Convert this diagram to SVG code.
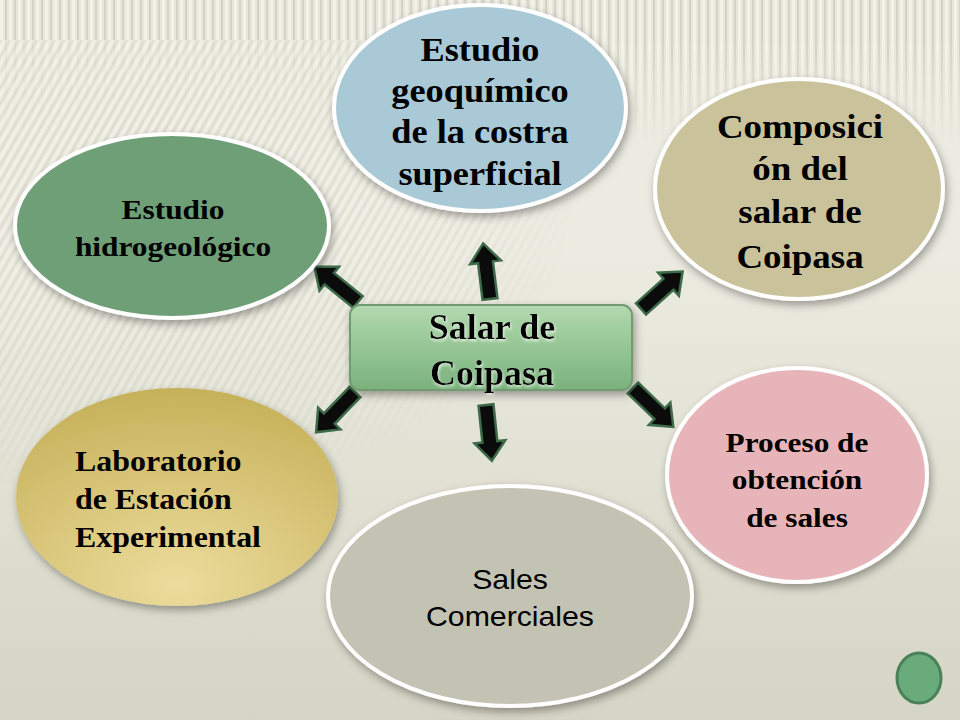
<svg xmlns="http://www.w3.org/2000/svg" width="960" height="720" viewBox="0 0 960 720">
<defs>
  <style>
    .node { stroke: #ffffff; stroke-width: 4; filter: url(#shadow); }
    .bold { font-family: "Liberation Serif", "Times New Roman", serif; font-weight: bold; fill: #000; text-anchor: middle; }
    .start { text-anchor: start; }
    .sans { font-family: "Liberation Sans", Arial, sans-serif; fill: #000; text-anchor: middle; }
    .arrow { fill: #0b0b0b; stroke: #3d6b49; stroke-width: 2.5; stroke-linejoin: miter; }
  </style>
  <filter id="shadow" x="-20%" y="-20%" width="140%" height="150%">
    <feDropShadow dx="2" dy="4" stdDeviation="4" flood-color="#000" flood-opacity="0.35"/>
  </filter>
  <filter id="tshadow" x="-10%" y="-10%" width="120%" height="130%">
    <feDropShadow dx="1" dy="2" stdDeviation="1.5" flood-color="#ffffff" flood-opacity="0.7"/>
  </filter>
  <pattern id="stripes" width="9" height="20" patternUnits="userSpaceOnUse">
    <rect width="9" height="20" fill="#e6e6da"/>
    <rect x="0" width="3" height="20" fill="#f3f2ea"/>
    <rect x="5" width="2" height="20" fill="#d3d4c6"/>
  </pattern>
  <pattern id="diag" width="9" height="20" patternUnits="userSpaceOnUse" patternTransform="skewX(-30)">
    <rect width="9" height="20" fill="#e8e7dc"/>
    <rect x="0" width="3" height="20" fill="#f3f2ea"/>
    <rect x="5" width="2" height="20" fill="#d8d8ca"/>
  </pattern>
  <linearGradient id="topfade" x1="0" y1="0" x2="0" y2="1">
    <stop offset="0" stop-color="#ffffff"/>
    <stop offset="0.06" stop-color="#ffffff"/>
    <stop offset="0.2" stop-color="#000000"/>
    <stop offset="1" stop-color="#000000"/>
  </linearGradient>
  <mask id="stripeMask">
    <rect width="960" height="720" fill="#fff"/>
    <rect width="960" height="720" fill="url(#topfade)"/>
  </mask>
  <radialGradient id="diagFade" cx="0.15" cy="0.25" r="0.45">
    <stop offset="0" stop-color="#fff"/>
    <stop offset="0.6" stop-color="#fff" stop-opacity="0.6"/>
    <stop offset="1" stop-color="#000"/>
  </radialGradient>
  <mask id="diagMask">
    <rect width="960" height="720" fill="url(#diagFade)"/>
    <rect width="960" height="40" fill="#000"/>
  </mask>
  <linearGradient id="bottomTint" x1="0" y1="0" x2="0" y2="1">
    <stop offset="0.35" stop-color="#a9ad92" stop-opacity="0"/>
    <stop offset="1" stop-color="#a9ad92" stop-opacity="0.35"/>
  </linearGradient>
  <radialGradient id="labGrad" cx="0.5" cy="0.9" r="0.9">
    <stop offset="0" stop-color="#ecdc9c"/>
    <stop offset="1" stop-color="#c6b15a"/>
  </radialGradient>
  <linearGradient id="boxGrad" x1="0" y1="0" x2="0" y2="1">
    <stop offset="0" stop-color="#b3d9b0"/>
    <stop offset="0.5" stop-color="#95c694"/>
    <stop offset="1" stop-color="#7ab27c"/>
  </linearGradient>
  <path id="arr" d="M -7.5 0 L -7.5 -37 L -15.5 -37 L 0 -56 L 15.5 -37 L 7.5 -37 L 7.5 0 Z"/>
</defs>

<!-- background -->
<rect width="960" height="720" fill="#ecebe1"/>
<rect width="960" height="720" fill="url(#stripes)" mask="url(#stripeMask)"/>
<rect width="960" height="720" fill="url(#diag)" mask="url(#diagMask)"/>
<rect width="960" height="720" fill="url(#bottomTint)"/>

<!-- connectors -->
<g id="connectors">
  <use href="#arr" class="arrow" transform="translate(358,302) rotate(-51)"/>
  <use href="#arr" class="arrow" transform="translate(490,299) rotate(-7)"/>
  <use href="#arr" class="arrow" transform="translate(641,309) rotate(48)"/>
  <use href="#arr" class="arrow" transform="translate(355,392) rotate(-136)"/>
  <use href="#arr" class="arrow" transform="translate(486,405) rotate(174)"/>
  <use href="#arr" class="arrow" transform="translate(633,388) rotate(134)"/>
</g>

<g id="node-hidrogeologico">
  <ellipse class="node" cx="172" cy="226" rx="157" ry="92" fill="#6e9f77"/>
  <g transform="translate(173,0) scale(1.12,1)">
    <text class="bold" font-size="28" x="0" y="219">Estudio</text>
    <text class="bold" font-size="28" x="0" y="256">hidrogeológico</text>
  </g>
</g>

<g id="node-geoquimico">
  <ellipse class="node" cx="480" cy="108" rx="146" ry="103" fill="#a9c9d6"/>
  <g transform="translate(480,0) scale(1.1,1)">
    <text class="bold" font-size="33" x="0" y="61">Estudio</text>
    <text class="bold" font-size="33" x="0" y="102">geoquímico</text>
    <text class="bold" font-size="33" x="0" y="143">de la costra</text>
    <text class="bold" font-size="33" x="0" y="185">superficial</text>
  </g>
</g>

<g id="node-composicion">
  <ellipse class="node" cx="799" cy="189" rx="144" ry="110" fill="#c9c29b"/>
  <g transform="translate(800,0) scale(1.12,1)">
    <text class="bold" font-size="33" x="0" y="138">Composici</text>
    <text class="bold" font-size="33" x="0" y="180">ón del</text>
    <text class="bold" font-size="33" x="0" y="223">salar de</text>
    <text class="bold" font-size="33" x="0" y="268">Coipasa</text>
  </g>
</g>

<g id="node-laboratorio">
  <ellipse cx="177" cy="497" rx="161" ry="109" fill="url(#labGrad)" filter="url(#shadow)"/>
  <g transform="translate(75,0) scale(1.1,1)">
    <text class="bold start" font-size="29" x="0" y="471">Laboratorio</text>
    <text class="bold start" font-size="29" x="0" y="509">de Estación</text>
    <text class="bold start" font-size="29" x="0" y="547">Experimental</text>
  </g>
</g>

<g id="node-sales">
  <ellipse class="node" cx="510" cy="596" rx="182" ry="110" fill="#c3c3b3"/>
  <g transform="translate(510,0) scale(1.08,1)">
    <text class="sans" font-size="28" x="0" y="589">Sales</text>
    <text class="sans" font-size="28" x="0" y="626">Comerciales</text>
  </g>
</g>

<g id="node-proceso">
  <ellipse class="node" cx="797" cy="475" rx="130" ry="107" fill="#e7b5b9"/>
  <g transform="translate(797,0) scale(1.16,1)">
    <text class="bold" font-size="27" x="0" y="452">Proceso de</text>
    <text class="bold" font-size="27" x="0" y="489">obtención</text>
    <text class="bold" font-size="27" x="0" y="527">de sales</text>
  </g>
</g>

<g id="node-salar">
  <rect x="350" y="305" width="282" height="85" rx="10" ry="10" fill="url(#boxGrad)" stroke="#6f9c70" stroke-width="2" filter="url(#shadow)"/>
  <text class="bold" font-size="36" x="492" y="339" filter="url(#tshadow)">Salar de</text>
  <text class="bold" font-size="36" x="492" y="385" filter="url(#tshadow)">Coipasa</text>
</g>

<g id="node-button">
  <ellipse cx="919" cy="678" rx="22" ry="25" fill="#6aab7c" stroke="#4b8159" stroke-width="3"/>
</g>
</svg>
